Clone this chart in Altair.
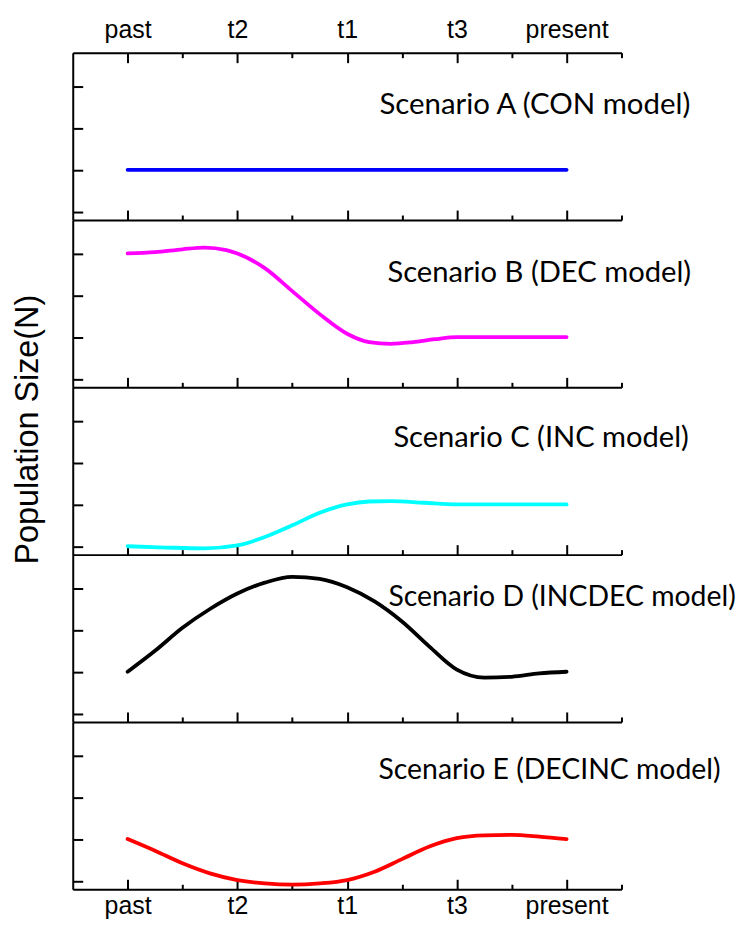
import altair as alt
import pandas as pd

# ---- data ----
TIME_LABELS = ["past", "t2", "t1", "t3", "present"]
TIME_POS = [0, 1, 2, 3, 4]
MINOR_POS = [0.5, 1.5, 2.5, 3.5, 4.5]
Y_TICKS = [0, 1, 2, 3]

A_t = [0, 4]
A_n = [1.0, 1.0]

B_t = [0, 0.25, 0.5, 0.7, 0.9, 1.0, 1.25, 1.5, 1.75, 2.0, 2.2, 2.4, 2.6, 2.8, 3.0, 3.5, 4.0]
B_n = [3.0, 3.03, 3.1, 3.14, 3.08, 3.0, 2.65, 2.1, 1.55, 1.08, 0.88, 0.84, 0.88, 0.95, 1.0, 1.0, 1.0]

C_t = [0, 0.35, 0.7, 1.0, 1.25, 1.5, 1.75, 2.0, 2.2, 2.4, 2.7, 3.0, 3.5, 4.0]
C_n = [0.0, -0.03, -0.05, 0.02, 0.22, 0.5, 0.8, 1.0, 1.07, 1.08, 1.04, 1.0, 1.0, 1.0]

D_t = [0, 0.25, 0.5, 0.75, 1.0, 1.25, 1.5, 1.75, 2.0, 2.25, 2.5, 2.75, 3.0, 3.25, 3.5, 3.75, 4.0]
D_n = [1.0, 1.5, 2.05, 2.5, 2.87, 3.13, 3.27, 3.22, 3.02, 2.68, 2.2, 1.6, 1.05, 0.86, 0.88, 0.96, 1.0]

E_t = [0, 0.25, 0.5, 0.75, 1.0, 1.25, 1.5, 1.75, 2.0, 2.25, 2.5, 2.75, 3.0, 3.25, 3.5, 3.75, 4.0]
E_n = [1.0, 0.72, 0.42, 0.18, 0.02, -0.06, -0.09, -0.06, 0.02, 0.22, 0.52, 0.82, 1.02, 1.09, 1.1, 1.06, 1.0]

SCENARIOS = [
    "Scenario A (CON model)",
    "Scenario B (DEC model)",
    "Scenario C (INC model)",
    "Scenario D (INCDEC model)",
    "Scenario E (DECINC model)",
]
COLORS = ["#0000ff", "#ff00ff", "#00ffff", "#000000", "#ff0000"]
Y_TITLE = "Population Size(N)"

# ---- styling ----
X_DOMAIN = [-0.5, 4.5]
Y_DOMAIN = [-0.2, 3.8]
W, H = 551, 168
TEXT_POS = [(308, 62), (316, 62), (322, 60), (317, 52), (307, 57)]
TEXT_SIZE = [29.5, 29.3, 29.2, 28.5, 28.5]
AX_FONT = "Liberation Sans"
TXT_FONT = "Lato"

label_expr = "[" + ",".join("'%s'" % s for s in TIME_LABELS) + "][round(datum.value)]"


def xscale():
    return alt.Scale(domain=X_DOMAIN, nice=False, zero=False)


def yscale():
    return alt.Scale(domain=Y_DOMAIN, nice=False, zero=False)


def ghost(df, xaxis=None, yaxis=None):
    return alt.Chart(df).mark_line(opacity=0).encode(
        x=alt.X("t:Q", scale=xscale(), axis=xaxis),
        y=alt.Y("n:Q", scale=yscale(), axis=yaxis),
    )


def xtick_layers(df, orient):
    return [
        ghost(df, xaxis=alt.Axis(orient=orient, values=TIME_POS, tickSize=10, offset=-10,
                                 title=None, grid=False, labels=False, domain=False)),
        ghost(df, xaxis=alt.Axis(orient=orient, values=MINOR_POS, tickSize=5, offset=-5,
                                 title=None, grid=False, labels=False, domain=False)),
    ]


def panel(i, ts, ns, top=False, bottom_labels=False, ytitle=False):
    df = pd.DataFrame({"t": ts, "n": ns})
    ykw = dict(orient="left", ticks=False, labels=False, domain=True, grid=False)
    if ytitle:
        ykw.update(
            title=Y_TITLE, titleFont=AX_FONT, titleFontSize=32.5, titleFontWeight="normal",
            titleColor="black", titleAngle=270, titleX=-35, titleY=42,
            titleAlign="center", titleBaseline="alphabetic",
        )
    else:
        ykw.update(title=None)
    if bottom_labels:
        xkw = dict(labels=True, labelExpr=label_expr, labelPadding=4.5,
                   labelFont=AX_FONT, labelFontSize=25, labelColor="black")
    else:
        xkw = dict(labels=False)
    main = alt.Chart(df).mark_line(
        color=COLORS[i], strokeWidth=3.8, interpolate="monotone", strokeCap="round"
    ).encode(
        x=alt.X("t:Q", scale=xscale(), axis=alt.Axis(
            orient="bottom", values=TIME_POS, ticks=False, title=None,
            domain=True, grid=False, **xkw)),
        y=alt.Y("n:Q", scale=yscale(), axis=alt.Axis(**ykw)),
    )
    layers = [main]
    layers += xtick_layers(df, "bottom")
    layers.append(ghost(df, yaxis=alt.Axis(
        orient="left", values=Y_TICKS, labels=False, title=None, domain=False,
        grid=False, tickSize=10, offset=-10)))
    if top:
        layers.append(ghost(df, xaxis=alt.Axis(
            orient="top", values=TIME_POS, labelExpr=label_expr, title=None,
            ticks=False, domain=True, grid=False, labelPadding=10,
            labelFont=AX_FONT, labelFontSize=25, labelColor="black")))
        layers += xtick_layers(df, "top")
    px, py = TEXT_POS[i]
    txt = alt.Chart(pd.DataFrame({"label": [SCENARIOS[i]]})).mark_text(
        align="left", baseline="alphabetic", font=TXT_FONT, fontSize=TEXT_SIZE[i],
        color="black"
    ).encode(x=alt.value(px), y=alt.value(py), text="label:N")
    layers.append(txt)
    return alt.layer(*layers).resolve_scale(
        x="independent", y="independent"
    ).properties(width=W, height=H)


panels = [
    panel(0, A_t, A_n, top=True),
    panel(1, B_t, B_n),
    panel(2, C_t, C_n, ytitle=True),
    panel(3, D_t, D_n),
    panel(4, E_t, E_n, bottom_labels=True),
]

chart = alt.vconcat(*panels, spacing=0, bounds="flush").properties(
    padding={"left": 3, "top": 8, "right": 0, "bottom": 0}
).configure_view(strokeWidth=0).configure_axis(
    domainColor="black", tickColor="black", domainWidth=2, tickWidth=2
)

chart.save("out.html", embed_options={"renderer": "svg", "actions": False})
